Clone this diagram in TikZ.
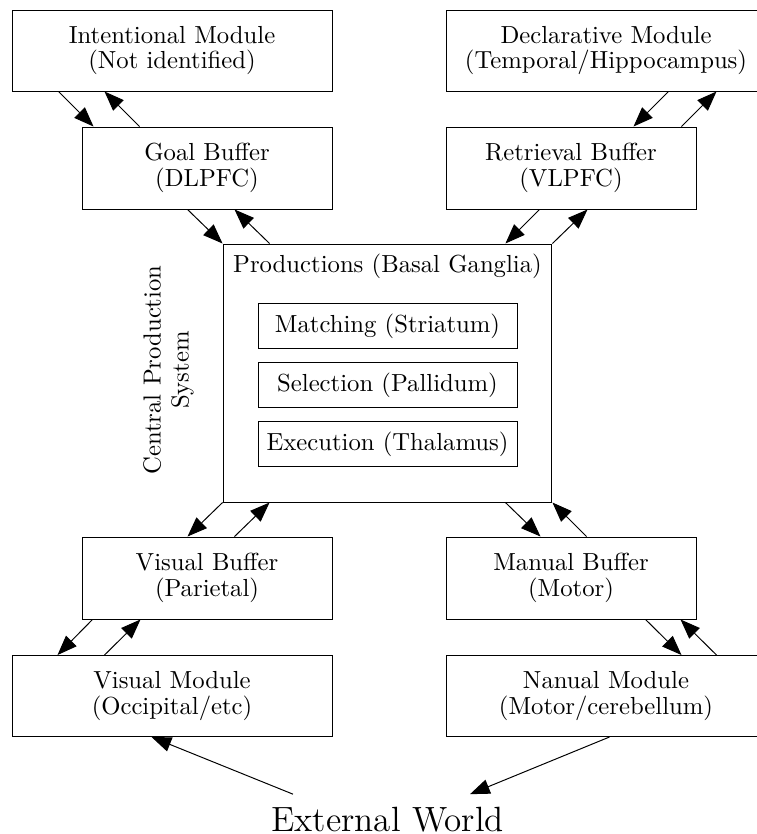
\documentclass[tikz,border=0pt]{standalone}
\usetikzlibrary{arrows.meta,calc}
\begin{document}
\begin{tikzpicture}[x=0.405pt,y=-0.405pt,
  every node/.style={font=\fontsize{10}{10.5}\selectfont},
  module/.style={draw, align=center, inner sep=0pt, minimum width=129.6pt, minimum height=32.8pt},
  buffer/.style={draw, align=center, inner sep=0pt, minimum width=101.25pt, minimum height=33.2pt},
  stage/.style={draw, inner sep=0pt, minimum width=104.9pt, minimum height=18.6pt},
  link/.style={-{Triangle[length=8pt,width=6pt]}},
]
\clip (0,0) rectangle (757,834);

% modules and buffers
\node[module] (intent) at (172,50.5) {Intentional Module\\(Not identified)};
\node[module] (decl) at (606,50.5) {Declarative Module\\(Temporal/Hippocampus)};
\node[buffer] (goal) at (207,168) {Goal Buffer\\(DLPFC)};
\node[buffer] (retr) at (571,168) {Retrieval Buffer\\(VLPFC)};

% central production system
\node[draw, inner sep=0pt, minimum width=133.2pt, minimum height=104.5pt] (prod) at (387.5,373) {};
\node[anchor=base] (prodtitle) at ($(prod.north)+(0,29)$) {Productions (Basal Ganglia)};
\node[stage] (match) at (387.5,326) {Matching (Striatum)};
\node[stage] (sel) at (387.5,385) {Selection (Pallidum)};
\node[stage] (exec) at (387.5,444) {Execution (Thalamus)};
\node[rotate=90, align=center, font=\fontsize{10}{11.3}\selectfont] (cps) at (168.5,370) {Central Production\\System};

\node[buffer] (vbuf) at (207,578) {Visual Buffer\\(Parietal)};
\node[buffer] (mbuf) at (571,578) {Manual Buffer\\(Motor)};
\node[module] (vmod) at (172,696) {Visual Module\\(Occipital/etc)};
\node[module] (nmod) at (606,696) {Nanual Module\\(Motor/cerebellum)};
\node[anchor=base, inner sep=0pt, font=\fontsize{14.2}{17}\selectfont] (ext) at (387.5,831) {External World};

% upper left pairs
\draw[link] ($(intent.south west)+(47,0)$) -- ($(goal.north west)+(12,0)$);
\draw[link] ($(goal.north west)+(58,0)$) -- ($(intent.south west)+(93,0)$);
\draw[link] ($(goal.south west)+(106,0)$) -- (prod.north west);
\draw[link] ($(prod.north west)+(47,0)$) -- ($(goal.south west)+(153,0)$);

% upper right pairs
\draw[link] ($(decl.south west)+(223,0)$) -- ($(retr.north west)+(188,0)$);
\draw[link] ($(retr.north west)+(236,0)$) -- ($(decl.south west)+(271,0)$);
\draw[link] ($(retr.south west)+(94,0)$) -- ($(prod.north east)+(-47,0)$);
\draw[link] (prod.north east) -- ($(retr.south west)+(142,0)$);

% lower left pairs
\draw[link] (prod.south west) -- ($(vbuf.north west)+(106,0)$);
\draw[link] ($(vbuf.north west)+(153,0)$) -- ($(prod.south west)+(47,0)$);
\draw[link] ($(vbuf.south west)+(11,0)$) -- ($(vmod.north west)+(46,0)$);
\draw[link] ($(vmod.north west)+(93,0)$) -- ($(vbuf.south west)+(59,0)$);

% lower right pairs
\draw[link] ($(prod.south east)+(-47,0)$) -- ($(mbuf.north west)+(95,0)$);
\draw[link] ($(mbuf.north west)+(141,0)$) -- (prod.south east);
\draw[link] ($(mbuf.south west)+(200,0)$) -- ($(nmod.north west)+(236,0)$);
\draw[link] ($(nmod.north west)+(271,0)$) -- ($(mbuf.south west)+(235,0)$);

% external world
\draw[link] ($(ext.north)+(-94.5,-12)$) -- ($(vmod.south west)+(140,0)$);
\draw[link] ($(nmod.south west)+(164,0)$) -- ($(ext.north)+(82.5,-12)$);
\end{tikzpicture}
\end{document}
